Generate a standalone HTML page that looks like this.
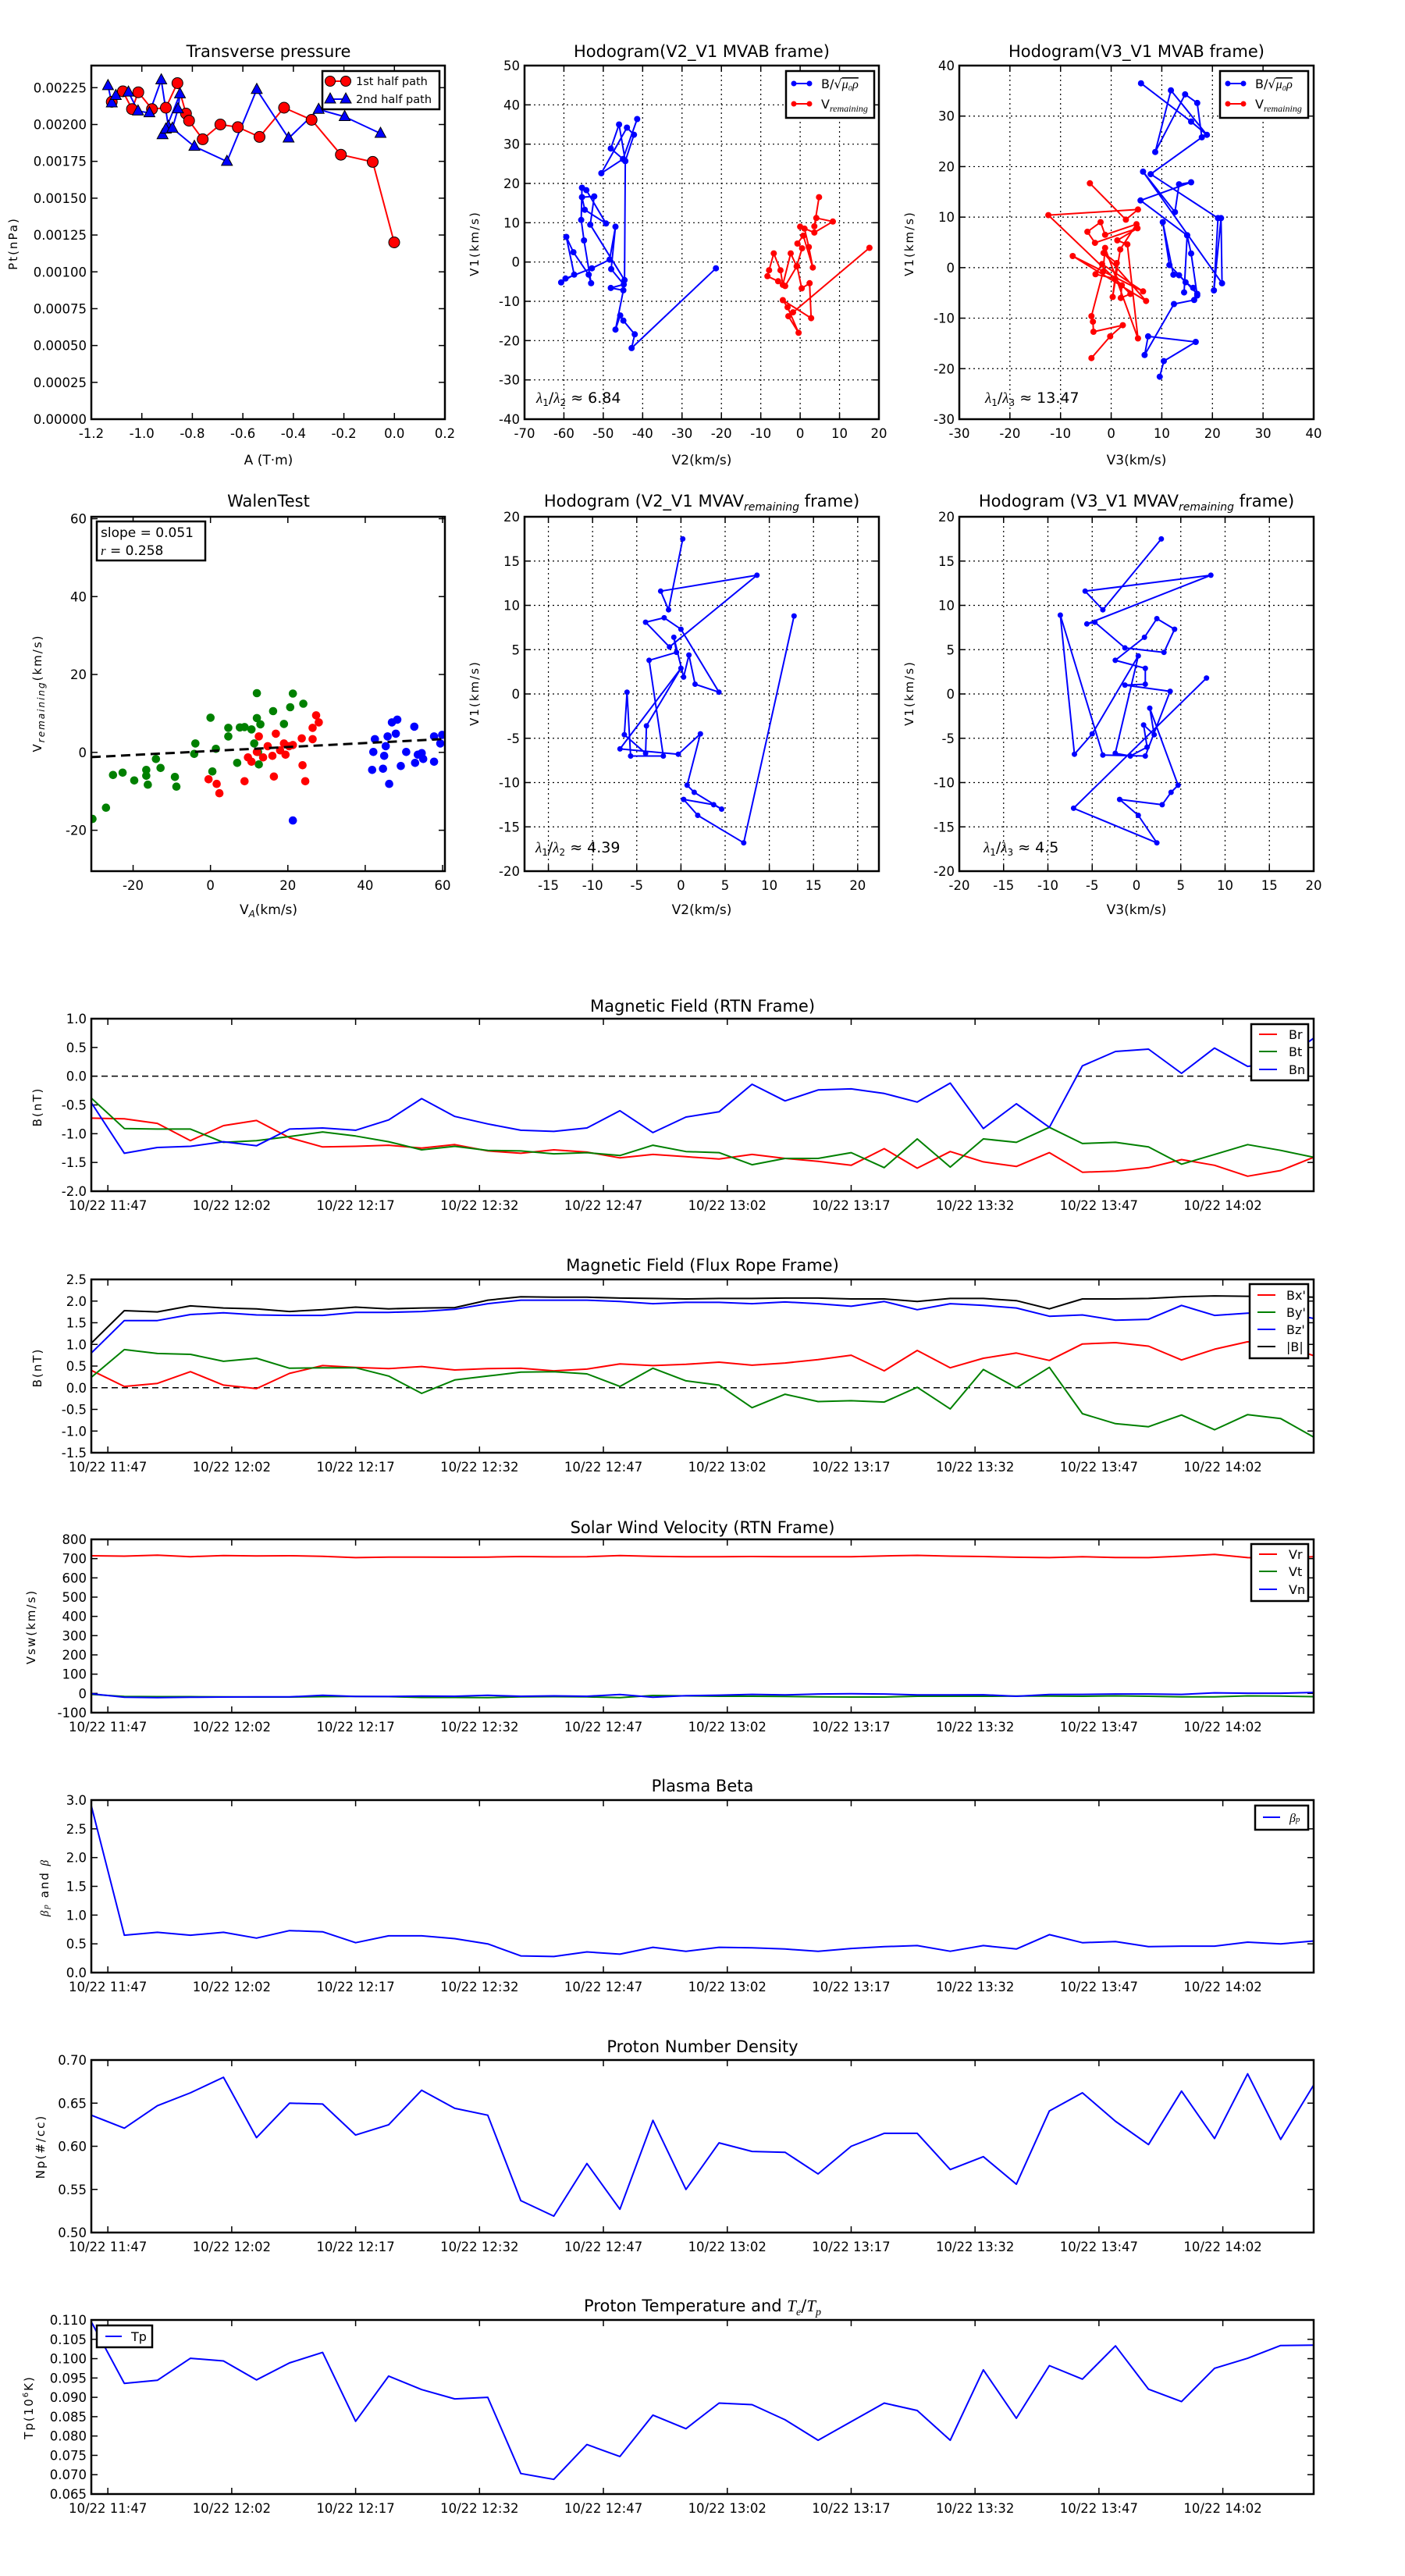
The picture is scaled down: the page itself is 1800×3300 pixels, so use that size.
<!DOCTYPE html>
<html><head><meta charset="utf-8"><style>
html,body{margin:0;padding:0;background:#fff;}
svg{display:block;font-family:"DejaVu Sans","Liberation Sans",sans-serif;}
.t{font-size:21px;text-anchor:middle;}
.yl{font-size:15px;letter-spacing:2px;text-anchor:middle;}
.xl{font-size:17px;text-anchor:middle;}
.lg{font-size:16px;}
</style></head><body>
<svg id="fig" xmlns="http://www.w3.org/2000/svg" width="1800" height="3300" viewBox="0 0 1800 3300">
<rect x="0" y="0" width="1800" height="3300" fill="#fff"/>
<text class="t" x="344" y="73">Transverse pressure</text>
<text class="t" x="899" y="73">Hodogram(V2_V1 MVAB frame)</text>
<text class="t" x="1456" y="73">Hodogram(V3_V1 MVAB frame)</text>
<text class="t" x="344" y="649">WalenTest</text>
<text class="t" x="899" y="649">Hodogram (V2_V1 MVAV<tspan font-style="italic" font-size="14" dy="5">remaining</tspan><tspan dy="-5"> frame)</tspan></text>
<text class="t" x="1456" y="649">Hodogram (V3_V1 MVAV<tspan font-style="italic" font-size="14" dy="5">remaining</tspan><tspan dy="-5"> frame)</tspan></text>
<text class="t" x="900" y="1296">Magnetic Field (RTN Frame)</text>
<text class="t" x="900" y="1628">Magnetic Field (Flux Rope Frame)</text>
<text class="t" x="900" y="1964">Solar Wind Velocity (RTN Frame)</text>
<text class="t" x="900" y="2295">Plasma Beta</text>
<text class="t" x="900" y="2629">Proton Number Density</text>
<text class="t" x="900" y="2961">Proton Temperature and <tspan font-family="Liberation Serif" font-style="italic">T</tspan><tspan font-family="Liberation Serif" font-style="italic" font-size="14" dy="5">e</tspan><tspan dy="-5">/</tspan><tspan font-family="Liberation Serif" font-style="italic">T</tspan><tspan font-family="Liberation Serif" font-style="italic" font-size="14" dy="5">p</tspan></text>
<text class="xl" x="344" y="595">A (T·m)</text>
<text class="xl" x="899" y="595">V2(km/s)</text>
<text class="xl" x="1456" y="595">V3(km/s)</text>
<text class="xl" x="344" y="1171">V<tspan font-size="12" dy="4" font-style="italic">A</tspan><tspan dy="-4">(km/s)</tspan></text>
<text class="xl" x="899" y="1171">V2(km/s)</text>
<text class="xl" x="1456" y="1171">V3(km/s)</text>
<text class="yl" transform="translate(22,312) rotate(-90)">Pt(nPa)</text>
<text class="yl" transform="translate(613,312) rotate(-90)">V1(km/s)</text>
<text class="yl" transform="translate(1170,312) rotate(-90)">V1(km/s)</text>
<text class="yl" transform="translate(53,888) rotate(-90)">V<tspan font-size="12" font-style="italic" dy="4">remaining</tspan><tspan dy="-4">(km/s)</tspan></text>
<text class="yl" transform="translate(613,888) rotate(-90)">V1(km/s)</text>
<text class="yl" transform="translate(1170,888) rotate(-90)">V1(km/s)</text>
<text class="yl" transform="translate(53,1418) rotate(-90)">B(nT)</text>
<text class="yl" transform="translate(53,1752) rotate(-90)">B(nT)</text>
<text class="yl" transform="translate(45,2084) rotate(-90)">Vsw(km/s)</text>
<text class="yl" transform="translate(62,2418) rotate(-90)"><tspan font-style="italic" font-family="Liberation Serif">β<tspan font-size="11">p</tspan></tspan> and <tspan font-style="italic" font-family="Liberation Serif">β</tspan></text>
<text class="yl" transform="translate(57,2750) rotate(-90)">Np(#/cc)</text>
<text class="yl" transform="translate(42,3084) rotate(-90)">Tp(10<tspan font-size="10" dy="-6">6</tspan><tspan dy="6">K)</tspan></text>
<text x="687" y="516" font-size="19"><tspan font-family="Liberation Serif" font-style="italic">λ</tspan><tspan font-size="12" dy="4">1</tspan><tspan dy="-4">/</tspan><tspan font-family="Liberation Serif" font-style="italic">λ</tspan><tspan font-size="12" dy="4">2</tspan><tspan dy="-4"> ≈ 6.84</tspan></text>
<text x="1262" y="516" font-size="19"><tspan font-family="Liberation Serif" font-style="italic">λ</tspan><tspan font-size="12" dy="4">1</tspan><tspan dy="-4">/</tspan><tspan font-family="Liberation Serif" font-style="italic">λ</tspan><tspan font-size="12" dy="4">3</tspan><tspan dy="-4"> ≈ 13.47</tspan></text>
<text x="686" y="1092" font-size="19"><tspan font-family="Liberation Serif" font-style="italic">λ</tspan><tspan font-size="12" dy="4">1</tspan><tspan dy="-4">/</tspan><tspan font-family="Liberation Serif" font-style="italic">λ</tspan><tspan font-size="12" dy="4">2</tspan><tspan dy="-4"> ≈ 4.39</tspan></text>
<text x="1260" y="1092" font-size="19"><tspan font-family="Liberation Serif" font-style="italic">λ</tspan><tspan font-size="12" dy="4">1</tspan><tspan dy="-4">/</tspan><tspan font-family="Liberation Serif" font-style="italic">λ</tspan><tspan font-size="12" dy="4">3</tspan><tspan dy="-4"> ≈ 4.5</tspan></text>
<g id="layer"></g>
<g id="legends">
<rect x="413" y="91" width="150" height="49" fill="#fff" stroke="#000" stroke-width="2.5"/>
<line x1="423" y1="104" x2="443" y2="104" stroke="#f00" stroke-width="2"/>
<circle cx="423" cy="104" r="6.5" fill="#f00" stroke="#000"/>
<circle cx="443" cy="104" r="6.5" fill="#f00" stroke="#000"/>
<text x="456" y="109" font-size="14.5">1st half path</text>
<line x1="423" y1="127" x2="443" y2="127" stroke="#00f" stroke-width="2"/>
<polygon points="423,119 430,132 416,132" fill="#00f" stroke="#000"/>
<polygon points="443,119 450,132 436,132" fill="#00f" stroke="#000"/>
<text x="456" y="132" font-size="14.5">2nd half path</text>

<rect x="1007" y="91" width="113" height="60" fill="#fff" stroke="#000" stroke-width="2.5"/>
<line x1="1017" y1="107" x2="1037" y2="107" stroke="#00f" stroke-width="2"/>
<circle cx="1017" cy="107" r="3.5" fill="#00f"/><circle cx="1037" cy="107" r="3.5" fill="#00f"/>
<text class="lg" x="1052" y="113">B/√<tspan font-family="Liberation Serif" font-style="italic" text-decoration="overline">μ₀ρ</tspan></text>
<line x1="1017" y1="133" x2="1037" y2="133" stroke="#f00" stroke-width="2"/>
<circle cx="1017" cy="133" r="3.5" fill="#f00"/><circle cx="1037" cy="133" r="3.5" fill="#f00"/>
<text class="lg" x="1052" y="139">V<tspan font-family="Liberation Serif" font-style="italic" font-size="12" dy="4">remaining</tspan></text>

<rect x="1563" y="91" width="113" height="60" fill="#fff" stroke="#000" stroke-width="2.5"/>
<line x1="1573" y1="107" x2="1593" y2="107" stroke="#00f" stroke-width="2"/>
<circle cx="1573" cy="107" r="3.5" fill="#00f"/><circle cx="1593" cy="107" r="3.5" fill="#00f"/>
<text class="lg" x="1608" y="113">B/√<tspan font-family="Liberation Serif" font-style="italic" text-decoration="overline">μ₀ρ</tspan></text>
<line x1="1573" y1="133" x2="1593" y2="133" stroke="#f00" stroke-width="2"/>
<circle cx="1573" cy="133" r="3.5" fill="#f00"/><circle cx="1593" cy="133" r="3.5" fill="#f00"/>
<text class="lg" x="1608" y="139">V<tspan font-family="Liberation Serif" font-style="italic" font-size="12" dy="4">remaining</tspan></text>

<rect x="124" y="668" width="139" height="50" fill="#fff" stroke="#000" stroke-width="2.5"/>
<text x="129" y="688" font-size="17">slope = 0.051</text>
<text x="129" y="711" font-size="17"><tspan font-family="Liberation Serif" font-style="italic">r</tspan> = 0.258</text>

<rect x="1603" y="1312" width="73" height="72" fill="#fff" stroke="#000" stroke-width="2.5"/>
<line x1="1613" y1="1325" x2="1636" y2="1325" stroke="#f00" stroke-width="2"/>
<text class="lg" x="1651" y="1331">Br</text>
<line x1="1613" y1="1347" x2="1636" y2="1347" stroke="#008000" stroke-width="2"/>
<text class="lg" x="1651" y="1353">Bt</text>
<line x1="1613" y1="1370" x2="1636" y2="1370" stroke="#00f" stroke-width="2"/>
<text class="lg" x="1651" y="1376">Bn</text>

<rect x="1601" y="1645" width="75" height="95" fill="#fff" stroke="#000" stroke-width="2.5"/>
<line x1="1611" y1="1659" x2="1634" y2="1659" stroke="#f00" stroke-width="2"/>
<text class="lg" x="1648" y="1665">Bx'</text>
<line x1="1611" y1="1681" x2="1634" y2="1681" stroke="#008000" stroke-width="2"/>
<text class="lg" x="1648" y="1687">By'</text>
<line x1="1611" y1="1703" x2="1634" y2="1703" stroke="#00f" stroke-width="2"/>
<text class="lg" x="1648" y="1709">Bz'</text>
<line x1="1611" y1="1725" x2="1634" y2="1725" stroke="#000" stroke-width="2"/>
<text class="lg" x="1648" y="1731">|B|</text>

<rect x="1603" y="1978" width="73" height="73" fill="#fff" stroke="#000" stroke-width="2.5"/>
<line x1="1613" y1="1991" x2="1636" y2="1991" stroke="#f00" stroke-width="2"/>
<text class="lg" x="1651" y="1997">Vr</text>
<line x1="1613" y1="2013" x2="1636" y2="2013" stroke="#008000" stroke-width="2"/>
<text class="lg" x="1651" y="2019">Vt</text>
<line x1="1613" y1="2036" x2="1636" y2="2036" stroke="#00f" stroke-width="2"/>
<text class="lg" x="1651" y="2042">Vn</text>

<rect x="1608" y="2313" width="68" height="31" fill="#fff" stroke="#000" stroke-width="2.5"/>
<line x1="1618" y1="2328" x2="1640" y2="2328" stroke="#00f" stroke-width="2"/>
<text class="lg" x="1652" y="2334" font-family="Liberation Serif" font-style="italic">β<tspan font-size="11">p</tspan></text>

<rect x="124" y="2979" width="71" height="28" fill="#fff" stroke="#000" stroke-width="2.5"/>
<line x1="135" y1="2993" x2="156" y2="2993" stroke="#00f" stroke-width="2"/>
<text class="lg" x="168" y="2999">Tp</text>
</g>
</svg>
<script>
const firstA = [-1.119,-1.075,-1.039,-1.014,-0.960,-0.905,-0.859,-0.825,-0.813,-0.759,-0.689,-0.620,-0.534,-0.437,-0.328,-0.212,-0.086,-0.001];
const firstPt = [0.002154,0.002225,0.002105,0.002219,0.002105,0.002114,0.002281,0.002074,0.002026,0.001900,0.002000,0.001982,0.001916,0.002114,0.002032,0.001795,0.001746,0.001200];
const secondA = [-1.134,-1.119,-1.103,-1.053,-1.015,-0.970,-0.923,-0.895,-0.918,-0.905,-0.849,-0.857,-0.879,-0.792,-0.663,-0.545,-0.419,-0.300,-0.197,-0.055];
const secondPt = [0.002263,0.002146,0.002196,0.002219,0.002091,0.002079,0.002302,0.001986,0.001930,0.001968,0.002207,0.002105,0.001974,0.001851,0.001749,0.002237,0.001907,0.002102,0.002053,0.001939];
const b2x = [-21.4,-42.8,-42.0,-44.9,-45.7,-46.9,-44.9,-48.1,-44.8,-48.0,-46.9,-48.4,-52.9,-59.6,-60.7,-57.4,-59.4,-57.6,-53.7,-53.1,-54.9,-55.6,-55.4,-54.3,-49.3,-54.7,-55.4,-52.3,-53.3,-44.6,-44.4,-48.1,-46.0,-44.4,-42.2,-44.0,-50.5,-45.0,-41.4];
const b2y = [-1.6,-21.9,-18.4,-14.9,-13.6,-17.2,-7.2,-6.6,-5.7,-1.8,9.0,0.6,-1.6,-4.2,-5.2,-3.2,6.4,2.5,-3.2,-5.4,5.5,10.7,18.9,18.3,9.8,13.3,16.5,16.7,9.5,-4.6,25.7,28.9,35.0,25.7,32.4,34.2,22.6,26.2,36.4];
const r2x = [17.6,-1.8,-3.0,-0.4,-3.2,-4.4,2.8,2.4,0.4,-0.8,-3.8,-5.6,-8.3,-7.9,-6.7,-5.0,-4.4,-2.4,-0.9,0.5,-0.7,0.8,3.2,2.2,1.1,0.0,3.6,8.3,4.1,3.6,4.8];
const r2y = [3.6,-12.8,-13.8,-18.0,-11.5,-9.7,-14.3,-5.4,-6.7,-1.0,-6.1,-4.9,-3.6,-2.1,2.2,-2.1,-5.8,2.2,-1.1,3.5,4.7,6.7,-1.4,3.8,8.5,9.0,7.5,10.3,11.2,9.1,16.5];
const b3x = [9.6,10.4,16.7,7.3,6.6,12.4,16.4,17.0,11.5,10.2,12.3,13.4,14.7,16.2,17.0,15.8,15.0,14.4,15.0,5.8,15.8,13.4,12.6,6.3,21.9,21.7,20.3,21.1,7.8,17.9,17.0,14.6,8.7,11.8,18.9,15.8,5.9];
const b3y = [-21.6,-18.5,-14.7,-13.6,-17.3,-7.2,-6.4,-5.2,0.5,9.0,-1.4,-1.5,-2.9,-4.0,-5.5,2.8,6.4,-4.9,6.4,13.3,16.9,16.5,11.0,19.0,-3.1,9.8,-4.5,9.8,18.5,25.8,32.6,34.3,22.9,35.1,26.3,28.9,36.5];
const r3x = [-3.9,-0.2,2.3,-3.5,-3.6,-3.9,-1.6,-1.2,5.3,3.2,1.2,5.2,-3.2,-4.7,-2.1,-1.2,5.0,1.8,0.3,1.1,-1.5,6.9,-7.6,6.3,-1.8,-3.1,0.8,3.8,1.9,2.1,-12.4,5.3,2.9,-4.2];
const r3y = [-17.9,-13.6,-11.4,-12.7,-10.7,-9.6,-0.8,3.9,-14.0,4.6,5.4,7.8,4.9,7.1,9.0,6.5,8.6,3.6,-5.8,0.9,2.9,-6.6,2.3,-4.7,0.7,-1.3,-2.2,-5.2,-6.0,-3.5,10.4,11.5,9.5,16.7];
const greenVA = [-30.5,-27.0,-25.2,-22.7,-19.7,-16.6,-16.6,-16.2,-14.1,-12.9,-9.2,-8.8,-3.9,-4.2,0.0,1.4,0.5,4.6,4.6,6.9,7.6,8.8,10.6,11.3,12.0,12.0,12.9,12.5,12.3,16.2,19.0,20.6,21.3,24.0];
const greenVR = [-17.1,-14.2,-5.8,-5.2,-7.2,-4.5,-6.0,-8.3,-1.7,-4.0,-6.3,-8.8,2.3,-0.4,8.9,0.9,-4.9,6.3,4.1,-2.7,6.4,6.5,5.9,2.3,15.2,8.8,7.2,-3.1,0.1,10.6,7.3,11.6,15.1,12.5];
const redVA = [-0.5,1.6,2.3,8.8,10.6,12.0,12.5,13.6,14.8,16.0,16.4,16.9,18.0,19.0,19.4,20.3,21.3,23.6,23.8,24.5,26.4,26.4,27.3,28.0,9.7];
const redVR = [-6.9,-8.1,-10.5,-7.4,-2.4,0.1,4.1,-1.3,1.6,-0.9,-6.2,4.8,0.5,2.3,-0.6,1.6,1.9,3.6,-3.3,-7.4,3.4,6.3,9.5,7.7,-1.3];
const blueVA = [21.3,41.8,42.1,42.5,44.6,44.9,45.3,45.8,46.2,46.9,47.9,48.3,49.2,50.6,52.7,52.9,53.6,54.6,55.0,57.8,57.8,59.4,59.9];
const blueVR = [-17.5,-4.5,0.1,3.4,-4.2,-0.9,1.6,4.1,-8.1,7.7,4.8,8.4,-3.5,0.1,6.6,-2.7,-0.6,-0.2,-1.7,-2.4,4.1,2.3,4.5];
const walenSlope = 0.051;
const walenIntercept = 0.35;
const m2x = [0.2,-1.4,-2.3,8.6,-1.3,-4.0,-1.9,0.0,4.3,1.6,0.9,0.3,-0.8,-0.5,-3.6,-2.0,-5.7,-6.1,-6.4,-4.0,-3.9,0.0,-6.9,-0.3,2.2,0.7,1.5,4.6,3.7,0.3,1.9,7.1,12.8];
const m2y = [17.5,9.5,11.6,13.4,5.3,8.1,8.6,7.3,0.2,1.1,4.4,1.9,6.4,4.7,3.8,-7.0,-7.0,0.2,-4.6,-6.7,-3.6,2.9,-6.2,-6.8,-4.5,-10.3,-11.1,-13.0,-12.5,-11.9,-13.7,-16.8,8.8];
const m3x = [2.8,-3.8,-5.8,8.4,-5.6,-4.7,-1.3,3.1,4.3,2.3,0.9,-2.4,1.0,1.0,-1.3,3.8,1.0,-3.8,-8.6,-7.0,-5.0,0.2,-2.4,-0.7,1.2,0.8,2.0,1.5,4.7,3.9,2.9,-1.9,0.2,2.3,-7.1,7.9];
const m3y = [17.5,9.5,11.6,13.4,7.9,8.1,5.2,4.7,7.3,8.5,6.4,3.8,2.9,1.1,1.0,0.3,-7.0,-6.9,8.9,-6.8,-4.5,4.3,-6.7,-7.0,-6.0,-3.5,-4.6,-1.6,-10.3,-11.1,-12.5,-11.9,-13.7,-16.8,-12.9,1.8];
const times = [0,4,8,12,16,20,24,28,32,36,40,44,48,52,56,60,64,68,72,76,80,84,88,92,96,100,104,108,112,116,120,124,128,132,136,140,144,148];
const timeTicks = [2,17,32,47,62,77,92,107,122,137];
const timeTickLabels = ["10/22 11:47","10/22 12:02","10/22 12:17","10/22 12:32","10/22 12:47","10/22 13:02","10/22 13:17","10/22 13:32","10/22 13:47","10/22 14:02"];
const Br = [-0.73,-0.74,-0.82,-1.12,-0.86,-0.77,-1.07,-1.23,-1.22,-1.20,-1.25,-1.19,-1.30,-1.34,-1.28,-1.32,-1.42,-1.36,-1.40,-1.44,-1.36,-1.43,-1.48,-1.55,-1.26,-1.60,-1.31,-1.49,-1.57,-1.33,-1.67,-1.65,-1.59,-1.45,-1.55,-1.74,-1.64,-1.41];
const Bt = [-0.38,-0.91,-0.92,-0.92,-1.15,-1.12,-1.05,-0.97,-1.04,-1.14,-1.28,-1.22,-1.29,-1.30,-1.35,-1.33,-1.38,-1.20,-1.31,-1.33,-1.54,-1.43,-1.43,-1.33,-1.59,-1.09,-1.58,-1.09,-1.15,-0.89,-1.17,-1.15,-1.23,-1.53,-1.36,-1.19,-1.29,-1.41];
const Bn = [-0.46,-1.34,-1.24,-1.22,-1.14,-1.21,-0.92,-0.90,-0.94,-0.76,-0.39,-0.70,-0.83,-0.94,-0.96,-0.90,-0.60,-0.98,-0.71,-0.62,-0.14,-0.43,-0.24,-0.22,-0.30,-0.45,-0.12,-0.91,-0.48,-0.89,0.18,0.43,0.47,0.05,0.49,0.17,0.25,0.66];
const Bx = [0.40,0.03,0.10,0.37,0.06,-0.02,0.33,0.51,0.47,0.44,0.49,0.41,0.44,0.45,0.39,0.43,0.55,0.51,0.54,0.59,0.52,0.57,0.65,0.75,0.39,0.86,0.46,0.68,0.80,0.63,1.01,1.04,0.96,0.64,0.89,1.06,1.00,0.74];
const By = [0.24,0.88,0.79,0.77,0.61,0.68,0.45,0.46,0.46,0.27,-0.13,0.18,0.27,0.36,0.37,0.32,0.03,0.45,0.16,0.06,-0.46,-0.15,-0.32,-0.30,-0.33,0.01,-0.49,0.42,0.00,0.47,-0.60,-0.83,-0.90,-0.63,-0.97,-0.62,-0.71,-1.14];
const Bz = [0.80,1.55,1.55,1.69,1.73,1.68,1.67,1.67,1.74,1.74,1.76,1.81,1.94,2.02,2.02,2.02,1.99,1.94,1.97,1.97,1.94,1.98,1.94,1.88,1.99,1.80,1.94,1.90,1.84,1.65,1.68,1.56,1.58,1.90,1.67,1.72,1.75,1.60];
const Bmag = [1.03,1.78,1.75,1.89,1.84,1.82,1.76,1.80,1.86,1.82,1.84,1.85,2.02,2.10,2.09,2.09,2.07,2.06,2.05,2.06,2.06,2.07,2.07,2.05,2.05,1.99,2.06,2.06,2.01,1.82,2.05,2.05,2.06,2.10,2.12,2.11,2.11,2.09];
const Vr = [715,713,718,710,716,714,715,712,705,708,708,707,708,711,709,710,716,712,710,710,711,710,710,710,714,717,713,711,707,705,710,706,705,713,722,705,703,710];
const Vt = [-5,-16,-17,-17,-18,-19,-19,-17,-16,-17,-21,-21,-22,-18,-17,-18,-22,-11,-13,-15,-15,-16,-18,-19,-19,-15,-15,-15,-14,-14,-15,-13,-15,-18,-18,-13,-14,-17];
const Vn = [-2,-20,-22,-20,-19,-18,-18,-10,-16,-16,-14,-15,-10,-15,-13,-15,-6,-20,-12,-9,-5,-8,-3,-2,-3,-8,-8,-7,-15,-6,-5,-3,-3,-5,3,1,1,5];
const betaP = [2.90,0.65,0.70,0.65,0.70,0.60,0.73,0.71,0.52,0.64,0.64,0.59,0.50,0.29,0.28,0.36,0.32,0.44,0.37,0.44,0.43,0.41,0.37,0.42,0.45,0.47,0.37,0.47,0.41,0.66,0.52,0.54,0.45,0.46,0.46,0.53,0.50,0.55];
const Np = [0.636,0.621,0.647,0.662,0.680,0.610,0.650,0.649,0.613,0.625,0.665,0.644,0.636,0.537,0.519,0.580,0.527,0.630,0.550,0.604,0.594,0.593,0.568,0.600,0.615,0.615,0.573,0.588,0.556,0.641,0.662,0.629,0.602,0.664,0.609,0.684,0.608,0.671];
const Tp = [0.1095,0.0936,0.0944,0.1001,0.0994,0.0945,0.0989,0.1016,0.0838,0.0955,0.0920,0.0896,0.0900,0.0703,0.0688,0.0778,0.0747,0.0854,0.0819,0.0885,0.0881,0.0842,0.0789,0.0837,0.0885,0.0866,0.0789,0.0971,0.0846,0.0982,0.0947,0.1033,0.0921,0.0889,0.0975,0.1001,0.1034,0.1035];
const p1XTicks = [-1.2,-1.0,-0.8,-0.6,-0.4,-0.2,0.0,0.2];
const p1XLabels = ["-1.2","-1.0","-0.8","-0.6","-0.4","-0.2","0.0","0.2"];
const p1YTicks = [0,0.00025,0.0005,0.00075,0.001,0.00125,0.0015,0.00175,0.002,0.00225];
const p1YLabels = ["0.00000","0.00025","0.00050","0.00075","0.00100","0.00125","0.00150","0.00175","0.00200","0.00225"];
const p2XTicks = [-70,-60,-50,-40,-30,-20,-10,0,10,20];
const p2YTicks = [-40,-30,-20,-10,0,10,20,30,40,50];
const p3XTicks = [-30,-20,-10,0,10,20,30,40];
const p3YTicks = [-30,-20,-10,0,10,20,30,40];
const wXTicks = [-20,0,20,40,60];
const wYTicks = [-20,0,20,40,60];
const m2XTicks = [-15,-10,-5,0,5,10,15,20];
const m3XTicks = [-20,-15,-10,-5,0,5,10,15,20];
const mYTicks = [-20,-15,-10,-5,0,5,10,15,20];
const t1Y = [-2.0,-1.5,-1.0,-0.5,0.0,0.5,1.0];
const t2Y = [-1.5,-1.0,-0.5,0.0,0.5,1.0,1.5,2.0,2.5];
const t3Y = [-100,0,100,200,300,400,500,600,700,800];
const t4Y = [0.0,0.5,1.0,1.5,2.0,2.5,3.0];
const t5Y = [0.50,0.55,0.60,0.65,0.70];
const t6Y = [0.065,0.070,0.075,0.080,0.085,0.090,0.095,0.100,0.105,0.110];

const NS = "http://www.w3.org/2000/svg";
const layer = document.getElementById('layer');
function mk(tag, parent) {
  const el = document.createElementNS(NS, tag);
  parent.appendChild(el);
  return el;
}
function panel(id, x0, y0, x1, y1, xmin, xmax, ymin, ymax) {
  const g = mk('g', layer);
  
  
  return {id, g, x0, y0, x1, y1,
    sx: v => x0 + (v - xmin) / (xmax - xmin) * (x1 - x0),
    sy: v => y1 - (v - ymin) / (ymax - ymin) * (y1 - y0)};
}
function fmt(v, d) { return v.toFixed(d); }
function axes(p, xt, xl, yt, yl, grid) {
  const g = p.g;
  if (grid) {
    xt.forEach(v => {
      const x = p.sx(v);
      if (x <= p.x0 + 1 || x >= p.x1 - 1) return;
      const l = mk('line', g);
      
      
      l.setAttribute('x1', x); l.setAttribute('x2', x); l.setAttribute('y1', p.y0); l.setAttribute('y2', p.y1);
      l.setAttribute('stroke', '#000'); l.setAttribute('stroke-width', '1.2'); l.setAttribute('stroke-dasharray', '2,4');
    });
    yt.forEach(v => {
      const y = p.sy(v);
      if (y <= p.y0 + 1 || y >= p.y1 - 1) return;
      const l = mk('line', g);
      
      
      l.setAttribute('x1', p.x0); l.setAttribute('x2', p.x1); l.setAttribute('y1', y); l.setAttribute('y2', y);
      l.setAttribute('stroke', '#000'); l.setAttribute('stroke-width', '1.2'); l.setAttribute('stroke-dasharray', '2,4');
    });
  }
  xt.forEach((v, i) => {
    const x = p.sx(v);
    [[p.y1, p.y1 - 8], [p.y0, p.y0 + 8]].forEach(pr => {
      const l = mk('line', g);
      
      
      l.setAttribute('x1', x); l.setAttribute('x2', x); l.setAttribute('y1', pr[0]); l.setAttribute('y2', pr[1]);
      l.setAttribute('stroke', '#000'); l.setAttribute('stroke-width', '1.5');
    });
    const t = mk('text', g);
    
    
    t.setAttribute('x', x); t.setAttribute('y', p.y1 + 24);
    t.setAttribute('text-anchor', 'middle'); t.setAttribute('font-size', '16.5');
    t.textContent = xl[i];
  });
  yt.forEach((v, i) => {
    const y = p.sy(v);
    [[p.x0, p.x0 + 8], [p.x1, p.x1 - 8]].forEach(pr => {
      const l = mk('line', g);
      
      
      l.setAttribute('x1', pr[0]); l.setAttribute('x2', pr[1]); l.setAttribute('y1', y); l.setAttribute('y2', y);
      l.setAttribute('stroke', '#000'); l.setAttribute('stroke-width', '1.5');
    });
    const t = mk('text', g);
    
    
    t.setAttribute('x', p.x0 - 6); t.setAttribute('y', y + 6);
    t.setAttribute('text-anchor', 'end'); t.setAttribute('font-size', '16.5');
    t.textContent = yl[i];
  });
}
function frame(p) {
  const r = mk('rect', p.g);
  
  
  r.setAttribute('x', p.x0); r.setAttribute('y', p.y0);
  r.setAttribute('width', p.x1 - p.x0); r.setAttribute('height', p.y1 - p.y0);
  r.setAttribute('fill', 'none'); r.setAttribute('stroke', '#000'); r.setAttribute('stroke-width', '2.5');
}
function clip(p) {
  const cp = mk('clipPath', p.g);
  cp.setAttribute('id', 'clip-' + p.id);
  const r = mk('rect', cp);
  r.setAttribute('x', p.x0); r.setAttribute('y', p.y0);
  r.setAttribute('width', p.x1 - p.x0); r.setAttribute('height', p.y1 - p.y0);
  const g = mk('g', p.g);
  
  
  g.setAttribute('clip-path', 'url(#clip-' + p.id + ')');
  return g;
}
function series(g, p, xs, ys, color, name, width) {
  const pl = mk('polyline', g);
  
  
  pl.setAttribute('points', xs.map((x, i) => p.sx(x).toFixed(1) + ',' + p.sy(ys[i]).toFixed(1)).join(' '));
  pl.setAttribute('fill', 'none'); pl.setAttribute('stroke', color);
  pl.setAttribute('stroke-width', width || 2); pl.setAttribute('stroke-linejoin', 'round');
}
function dots(g, p, xs, ys, color, name, r, edge) {
  xs.forEach((x, i) => {
    const c = mk('circle', g);
    
    
    c.setAttribute('cx', p.sx(x).toFixed(1)); c.setAttribute('cy', p.sy(ys[i]).toFixed(1));
    c.setAttribute('r', r); c.setAttribute('fill', color);
    if (edge) { c.setAttribute('stroke', '#000'); c.setAttribute('stroke-width', '1'); }
  });
}
function tris(g, p, xs, ys, color, name) {
  xs.forEach((x, i) => {
    const cx = p.sx(x), cy = p.sy(ys[i]);
    const t = mk('polygon', g);
    
    
    t.setAttribute('points', cx + ',' + (cy - 8) + ' ' + (cx + 7) + ',' + (cy + 5) + ' ' + (cx - 7) + ',' + (cy + 5));
    t.setAttribute('fill', color); t.setAttribute('stroke', '#000'); t.setAttribute('stroke-width', '1');
  });
}
function hline(g, p, v, name) {
  const l = mk('line', g);
  
  
  l.setAttribute('x1', p.x0); l.setAttribute('x2', p.x1); l.setAttribute('y1', p.sy(v)); l.setAttribute('y2', p.sy(v));
  l.setAttribute('stroke', '#000'); l.setAttribute('stroke-width', '1.5'); l.setAttribute('stroke-dasharray', '8,5');
}

let p = panel('transverse-pressure', 117, 84, 570, 537, -1.2, 0.2, 0, 0.0024);
axes(p, p1XTicks, p1XLabels, p1YTicks, p1YLabels, false);
let g = clip(p);
series(g, p, firstA, firstPt, '#f00', 'first-half-path-line');
series(g, p, secondA, secondPt, '#00f', 'second-half-path-line');
dots(g, p, firstA, firstPt, '#f00', 'first-half-point', 7, true);
tris(g, p, secondA, secondPt, '#00f', 'second-half-point');
frame(p);

p = panel('hodogram-v2-mvab', 672, 84, 1126, 537, -70, 20, -40, 50);
axes(p, p2XTicks, p2XTicks.map(String), p2YTicks, p2YTicks.map(String), true);
g = clip(p);
series(g, p, b2x, b2y, '#00f', 'b-alfven-path');
dots(g, p, b2x, b2y, '#00f', 'b-alfven-point', 4);
series(g, p, r2x, r2y, '#f00', 'v-remaining-path');
dots(g, p, r2x, r2y, '#f00', 'v-remaining-point', 4);
frame(p);

p = panel('hodogram-v3-mvab', 1229, 84, 1683, 537, -30, 40, -30, 40);
axes(p, p3XTicks, p3XTicks.map(String), p3YTicks, p3YTicks.map(String), true);
g = clip(p);
series(g, p, b3x, b3y, '#00f', 'b-alfven-path');
dots(g, p, b3x, b3y, '#00f', 'b-alfven-point', 4);
series(g, p, r3x, r3y, '#f00', 'v-remaining-path');
dots(g, p, r3x, r3y, '#f00', 'v-remaining-point', 4);
frame(p);

p = panel('walen-test', 117, 662, 570, 1116, -30.8, 60.6, -30.5, 60.5);
axes(p, wXTicks, wXTicks.map(String), wYTicks, wYTicks.map(String), false);
g = clip(p);
dots(g, p, greenVA, greenVR, '#008000', 'walen-point-green', 5.3);
dots(g, p, redVA, redVR, '#f00', 'walen-point-red', 5.3);
dots(g, p, blueVA, blueVR, '#00f', 'walen-point-blue', 5.3);
const fitX = [-30.8, 60.6];
const fl = mk('line', g);


fl.setAttribute('x1', p.sx(fitX[0])); fl.setAttribute('x2', p.sx(fitX[1]));
fl.setAttribute('y1', p.sy(walenSlope * fitX[0] + walenIntercept)); fl.setAttribute('y2', p.sy(walenSlope * fitX[1] + walenIntercept));
fl.setAttribute('stroke', '#000'); fl.setAttribute('stroke-width', '3'); fl.setAttribute('stroke-dasharray', '12,7');
frame(p);

p = panel('hodogram-v2-mvav', 672, 662, 1126, 1116, -17.7, 22.4, -20, 20);
axes(p, m2XTicks, m2XTicks.map(String), mYTicks, mYTicks.map(String), true);
g = clip(p);
series(g, p, m2x, m2y, '#00f', 'mvav-v2-path');
dots(g, p, m2x, m2y, '#00f', 'mvav-v2-point', 3.5);
frame(p);

p = panel('hodogram-v3-mvav', 1229, 662, 1683, 1116, -20, 20, -20, 20);
axes(p, m3XTicks, m3XTicks.map(String), mYTicks, mYTicks.map(String), true);
g = clip(p);
series(g, p, m3x, m3y, '#00f', 'mvav-v3-path');
dots(g, p, m3x, m3y, '#00f', 'mvav-v3-point', 3.5);
frame(p);

function ts(id, y0, y1, ymin, ymax, yt, dec) {
  const q = panel(id, 117, y0, 1683, y1, 0, 148, ymin, ymax);
  axes(q, timeTicks, timeTickLabels, yt, yt.map(v => fmt(v, dec)), false);
  return q;
}
p = ts('b-rtn', 1305, 1526, -2, 1, t1Y, 1);
g = clip(p);
hline(g, p, 0, 'b-rtn-zero-line');
series(g, p, times, Br, '#f00', 'br-line');
series(g, p, times, Bt, '#008000', 'bt-line');
series(g, p, times, Bn, '#00f', 'bn-line');
frame(p);

p = ts('b-fluxrope', 1639, 1861, -1.5, 2.5, t2Y, 1);
g = clip(p);
hline(g, p, 0, 'b-fr-zero-line');
series(g, p, times, Bx, '#f00', 'bx-line');
series(g, p, times, By, '#008000', 'by-line');
series(g, p, times, Bz, '#00f', 'bz-line');
series(g, p, times, Bmag, '#000', 'bmag-line');
frame(p);

p = ts('velocity', 1972, 2194, -100, 800, t3Y, 0);
g = clip(p);
series(g, p, times, Vr, '#f00', 'vr-line');
series(g, p, times, Vt, '#008000', 'vt-line');
series(g, p, times, Vn, '#00f', 'vn-line');
frame(p);

p = ts('plasma-beta', 2306, 2527, 0, 3, t4Y, 1);
g = clip(p);
series(g, p, times, betaP, '#00f', 'beta-p-line');
frame(p);

p = ts('density', 2639, 2860, 0.5, 0.7, t5Y, 2);
g = clip(p);
series(g, p, times, Np, '#00f', 'np-line');
frame(p);

p = ts('temperature', 2972, 3195, 0.065, 0.110, t6Y, 3);
g = clip(p);
series(g, p, times, Tp, '#00f', 'tp-line');
frame(p);
</script>
</body></html>
